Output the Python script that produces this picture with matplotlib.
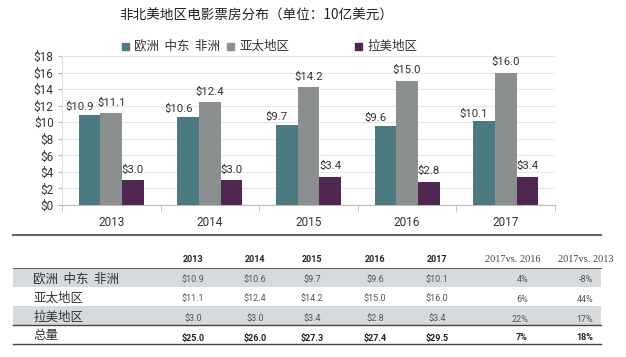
import matplotlib
matplotlib.use("Agg")
import matplotlib.pyplot as plt
from matplotlib.patches import Rectangle
import numpy as np

plt.rcParams['font.family'] = ['Roboto', 'Noto Sans CJK SC', 'DejaVu Sans']

title = "非北美地区电影票房分布（单位：10亿美元）"
years = ["2013", "2014", "2015", "2016", "2017"]
series_names = ["欧洲  中东  非洲", "亚太地区", "拉美地区"]
emea = [10.9, 10.6, 9.7, 9.6, 10.1]
apac = [11.1, 12.4, 14.2, 15.0, 16.0]
latam = [3.0, 3.0, 3.4, 2.8, 3.4]
row_labels = ["欧洲  中东  非洲", "亚太地区", "拉美地区", "总量"]
chg_headers = ["2017vs. 2016", "2017vs. 2013"]
chg_emea = ["4%", "-8%"]
chg_apac = ["6%", "44%"]
chg_latam = ["22%", "17%"]
chg_total = ["7%", "18%"]
yticks = [0, 2, 4, 6, 8, 10, 12, 14, 16, 18]

colors = ["#4b7a80", "#8b8f8f", "#4f2750"]

W, H = 626, 357
fig = plt.figure(figsize=(W / 100, H / 100), dpi=100)
fig.patch.set_facecolor("white")

def box(l, t, r, b):
    return [l / W, 1 - b / H, (r - l) / W, (b - t) / H]

ax = fig.add_axes(box(62, 56, 555, 205))
series = [emea, apac, latam]
x = np.arange(len(years))
bw = 0.22
offsets = [-bw, 0, bw]
for i, (vals, col) in enumerate(zip(series, colors)):
    ax.bar(x + offsets[i], vals, width=bw, color=col, zorder=3)
    for xi, v in zip(x + offsets[i], vals):
        dx = -0.1 if i == 0 else 0
        dy = 2 if i == 0 else 4
        ax.annotate(f"${v:.1f}", (xi + dx, v), xytext=(0, dy), textcoords="offset points",
                    ha="center", va="bottom", fontsize=8.2, color="#333333")

ax.set_xlim(-0.5, len(years) - 0.5)
ax.set_ylim(0, 18)
ax.set_yticks(yticks)
ax.set_yticklabels([f"${v}" for v in yticks], fontsize=8.5, color="#333333")
ax.set_xticks(x)
ax.set_xticklabels(years, fontsize=8.5, color="#333333")
ax.set_xticks(np.arange(-0.5, len(years)), minor=True)
ax.tick_params(axis="x", which="major", length=0, pad=8)
ax.tick_params(axis="x", which="minor", length=4, color="#bbbbbb", direction="out")
ax.tick_params(axis="y", length=3, color="#bbbbbb", pad=3)
ax.grid(axis="y", color="#e6e6e6", lw=0.8, zorder=0)
for s in ["top", "right"]:
    ax.spines[s].set_visible(False)
ax.spines["left"].set_color("#e0e0e0")
ax.spines["bottom"].set_color("#bbbbbb")

ov = fig.add_axes([0, 0, 1, 1])
ov.set_xlim(0, W)
ov.set_ylim(H, 0)
ov.axis("off")
ov.patch.set_alpha(0)

ov.text(256, 16, title, ha="center", va="center", fontsize=9.8, color="#222222",
        family=['Noto Sans CJK SC'])

# legend
leg_x = [125, 230, 358]
for lx, name, col in zip(leg_x, series_names, colors):
    ov.add_patch(Rectangle((lx - 3.5, 42.5), 7, 7, color=col))
    ov.text(lx + 9, 46, name, ha="left", va="center", fontsize=9, color="#333333",
            family=['Noto Sans CJK SC'])

# table
ov.plot([13, 601], [235, 235], color="#666666", lw=1.5)
ov.add_patch(Rectangle((13, 268), 588, 19, color="#d6dadc", lw=0))
ov.add_patch(Rectangle((13, 306), 588, 19, color="#d6dadc", lw=0))
ov.plot([13, 601], [268, 268], color="#666666", lw=0.8)
ov.plot([13, 601], [325, 325], color="#444444", lw=1.0)
ov.plot([13, 601], [344, 344], color="#444444", lw=1.0)

col_x = [193, 255, 312, 375, 437]
chg_x = [528, 593]
hdr_y = 259
for cx, yr in zip(col_x, years):
    ov.text(cx, hdr_y, yr, ha="center", va="center", fontsize=6.5, fontweight="bold", color="#222222")
ov.text(541, hdr_y, chg_headers[0], ha="right", va="center", fontsize=7.5, color="#444444",
        family=['Liberation Serif'])
ov.text(613, hdr_y, chg_headers[1], ha="right", va="center", fontsize=7.5, color="#444444",
        family=['Liberation Serif'])

totals = [round(a + b + c, 1) for a, b, c in zip(emea, apac, latam)]
rows = [(emea, chg_emea), (apac, chg_apac), (latam, chg_latam), (totals, chg_total)]
label_y = [279, 298, 317, 336]
val_y = [280, 299, 319, 338]
for r, ((vals, chg), ly, vy) in enumerate(zip(rows, label_y, val_y)):
    bold = (r == 3)
    ov.text(33, ly, row_labels[r], ha="left", va="center", fontsize=9, color="#333333",
            family=['Noto Sans CJK SC'])
    for cx, v in zip(col_x, vals):
        ov.text(cx, vy, f"${v:.1f}", ha="center", va="center", fontsize=6.5,
                fontweight="bold" if bold else "normal",
                color="#222222" if bold else "#555555")
    for cx, c in zip(chg_x, chg):
        ov.text(cx, vy, c, ha="right", va="center", fontsize=6.5,
                fontweight="bold" if bold else "normal",
                color="#222222" if bold else "#555555")

fig.savefig("out.png", dpi=100)
